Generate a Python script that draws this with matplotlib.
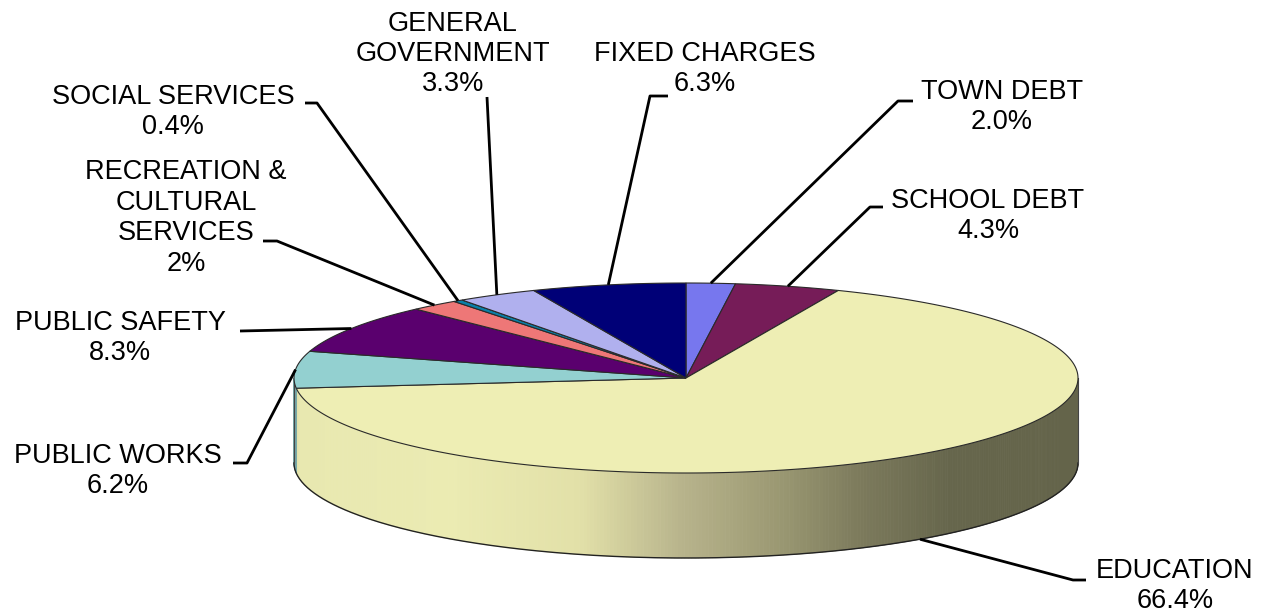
import numpy as np
import matplotlib.pyplot as plt
from matplotlib.patches import Polygon
from matplotlib.colors import to_rgb

# budget shares, clockwise from 12 o'clock
categories = ["TOWN DEBT", "SCHOOL DEBT", "EDUCATION", "PUBLIC WORKS", "PUBLIC SAFETY",
              "RECREATION &\nCULTURAL\nSERVICES", "SOCIAL SERVICES", "GENERAL\nGOVERNMENT",
              "FIXED CHARGES"]
shares = [2.0, 4.3, 66.4, 6.2, 8.3, 2.0, 0.4, 3.3, 6.3]
pct_labels = ["2.0%", "4.3%", "66.4%", "6.2%", "8.3%", "2%", "0.4%", "3.3%", "6.3%"]
colors = ["#7777ee", "#761c58", "#eeeeb4", "#93d0d0", "#5a006e",
          "#ee7777", "#0a80a8", "#b0b0ee", "#000077"]

# label layout: text centre, then leader points going from the pie outward
label_pos = [(1002, 107), (988, 216), (1175, 586), (118, 471), (120, 338),
             (186, 218), (173, 112), (453, 54), (705, 69)]
leader_pts = [[(898, 101), (913, 101)],
              [(870, 207), (883, 207)],
              [(1073, 580), (1086, 580)],
              [(247, 463), (233, 463)],
              [(240, 331)],
              [(277, 241), (263, 241)],
              [(317, 103), (305, 103)],
              [(487, 97)],
              [(650, 96), (668, 96)]]

# pie geometry in pixels
cx, cy, rx, ry, depth = 686, 378, 392, 95, 85

# side shading of the big slice, left to right
grad_x = [293, 300, 450, 580, 680, 780, 860, 950, 1078]
grad_c = ["#dcdca4", "#e8e8b0", "#ebebb2", "#e2e0a8", "#b8b48c", "#9a9872", "#7c7a5c", "#66664c", "#64644a"]


def pt(theta, dz=0.0):
    t = np.radians(theta)
    return cx + rx * np.sin(t), cy - ry * np.cos(t) + dz


def side_color(x):
    rgb = np.array([to_rgb(c) for c in grad_c])
    return tuple(np.interp(x, grad_x, rgb[:, k]) for k in range(3))


fig = plt.figure(figsize=(12.7, 6.12), dpi=100)
ax = fig.add_axes([0, 0, 1, 1])
ax.set_xlim(0, 1270)
ax.set_ylim(612, 0)
ax.axis("off")

total = sum(shares)
bounds = np.concatenate([[0], np.cumsum(shares) / total * 360])

# side wall (front half only, 90..270 deg)
for i in range(len(shares)):
    a, b = max(bounds[i], 90), min(bounds[i + 1], 270)
    if a >= b:
        continue
    steps = np.linspace(a, b, max(2, int((b - a) * 2) + 1))
    for t0, t1 in zip(steps[:-1], steps[1:]):
        p0, p1 = pt(t0), pt(t1)
        q0, q1 = pt(t0, depth), pt(t1, depth)
        if i == 2:
            fc = side_color((p0[0] + p1[0]) / 2)
        else:
            fc = tuple(0.8 * np.array(to_rgb(colors[i])))
        ax.add_patch(Polygon([p0, p1, q1, q0], closed=True, facecolor=fc,
                             edgecolor=fc, lw=0.6, zorder=1))

# side outline
tt = np.linspace(90, 270, 300)
bx, by = zip(*[pt(t, depth) for t in tt])
ax.plot(bx, by, color="#222222", lw=1.0, zorder=2)
for t in (90, 270):
    p, q = pt(t), pt(t, depth)
    ax.plot([p[0], q[0]], [p[1], q[1]], color="#444444", lw=0.8, zorder=2)

# top face wedges
for i in range(len(shares)):
    arc = np.linspace(bounds[i], bounds[i + 1], max(3, int(shares[i] * 6)))
    verts = [(cx, cy)] + [pt(t) for t in arc]
    ax.add_patch(Polygon(verts, closed=True, facecolor=colors[i],
                         edgecolor="#2a2a2a", lw=0.8, zorder=3))

# leader lines and labels
for i in range(len(shares)):
    mid = (bounds[i] + bounds[i + 1]) / 2
    anchor = pt(mid, depth) if i == 2 else pt(mid)
    path = [anchor] + leader_pts[i]
    xs, ys = zip(*path)
    ax.plot(xs, ys, color="black", lw=2, zorder=4, solid_capstyle="butt")
    ax.text(label_pos[i][0], label_pos[i][1], categories[i] + "\n" + pct_labels[i],
            ha="center", va="center", fontsize=19.5, linespacing=1.22,
            family=["Liberation Sans", "DejaVu Sans"], color="black", zorder=5)

fig.savefig("out.png", dpi=100)
